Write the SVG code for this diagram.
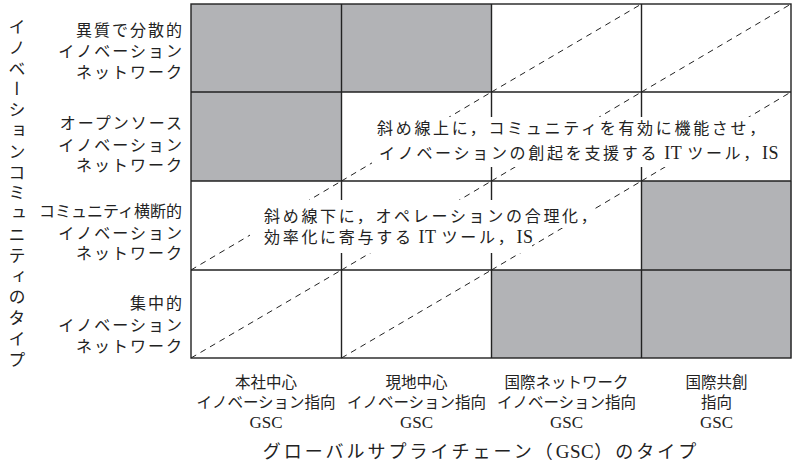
<svg xmlns="http://www.w3.org/2000/svg" width="792" height="470" viewBox="0 0 792 470">
<style>
.t{font-family:"Liberation Serif","Noto Sans CJK JP",serif;fill:#222;font-size:16px}
.rl{text-anchor:end;letter-spacing:2px}
.cl{text-anchor:middle;letter-spacing:0;font-size:15.5px}
.lat{font-family:"Liberation Serif",serif;font-size:18px;letter-spacing:0.5px}
.gsc{font-family:"Liberation Serif",serif;font-size:17px;letter-spacing:0}
.g{fill:#b2b3b6;stroke:none}
.grid{stroke:#222;stroke-width:1.4;fill:none}
.dash{stroke:#222;stroke-width:1;stroke-dasharray:6 5;fill:none}
.mask{fill:#fff;stroke:none}
.note{letter-spacing:2.7px}
</style>
<rect width="792" height="470" fill="#fff"/>
<g id="cells">
<rect id="c11" class="g" x="191" y="4" width="150.5" height="88"/>
<rect id="c12" class="g" x="341.5" y="4" width="150" height="88"/>
<rect id="c21" class="g" x="191" y="92" width="150.5" height="89"/>
<rect id="c34" class="g" x="641.5" y="181" width="150" height="89"/>
<rect id="c43" class="g" x="491.5" y="270" width="150" height="88"/>
<rect id="c44" class="g" x="641.5" y="270" width="150" height="88"/>
</g>
<g id="connectors">
<path class="dash" d="M491.5 92 L641.5 4 M641.5 92 L791 4 M341.5 181 L491.5 92 M491.5 181 L641.5 92 M641.5 181 L791 92 M191 270 L341.5 181 M341.5 270 L491.5 181 M491.5 270 L641.5 181 M191 358 L341.5 270 M341.5 358 L491.5 270"/>
<path class="grid" d="M191 92 H791 M191 181 H791 M191 270 H791 M341.5 4 V358 M491.5 4 V358 M641.5 4 V358"/>
<rect class="grid" x="191" y="4" width="600" height="354" stroke-width="1.6"/>
</g>
<g id="note-above">
<rect class="mask" x="372" y="117" width="408" height="50"/>
<text class="t note" x="377" y="134">斜め線上に，コミュニティを有効に機能させ，</text>
<text class="t note" x="379" y="159">イノベーションの創起を支援する<tspan class="lat">&#160;IT&#160;</tspan>ツール，<tspan class="lat">IS</tspan></text>
</g>
<g id="note-below">
<rect class="mask" x="257" y="200" width="335" height="28"/>
<rect class="mask" x="250" y="228" width="282" height="25"/>
<text class="t note" x="264" y="222">斜め線下に，オペレーションの合理化，</text>
<text class="t note" x="264" y="243">効率化に寄与する<tspan class="lat">&#160;IT&#160;</tspan>ツール，<tspan class="lat">IS</tspan></text>
</g>
<g id="row1">
<text class="t rl" x="184" y="36">異質で分散的</text>
<text class="t rl" x="184" y="57">イノベーション</text>
<text class="t rl" x="184" y="78">ネットワーク</text>
</g>
<g id="row2">
<text class="t rl" x="184" y="129">オープンソース</text>
<text class="t rl" x="184" y="151">イノベーション</text>
<text class="t rl" x="184" y="171">ネットワーク</text>
</g>
<g id="row3">
<text class="t rl" x="182" y="217" style="letter-spacing:0">コミュニティ横断的</text>
<text class="t rl" x="184" y="239">イノベーション</text>
<text class="t rl" x="184" y="259">ネットワーク</text>
</g>
<g id="row4">
<text class="t rl" x="184" y="309">集中的</text>
<text class="t rl" x="184" y="331">イノベーション</text>
<text class="t rl" x="184" y="352">ネットワーク</text>
</g>
<g id="yaxis">
<text class="t" x="15" y="18" style="writing-mode:vertical-rl;font-size:17px;letter-spacing:3.8px">イノベーションコミュニティのタイプ</text>
</g>
<g id="col1">
<text class="t cl" x="266" y="388">本社中心</text>
<text class="t cl" x="266" y="408">イノベーション指向</text>
<text class="t cl gsc" x="266" y="428">GSC</text>
</g>
<g id="col2">
<text class="t cl" x="416.5" y="388">現地中心</text>
<text class="t cl" x="416.5" y="408">イノベーション指向</text>
<text class="t cl gsc" x="416.5" y="428">GSC</text>
</g>
<g id="col3">
<text class="t cl" x="566.5" y="388">国際ネットワーク</text>
<text class="t cl" x="566.5" y="408">イノベーション指向</text>
<text class="t cl gsc" x="566.5" y="428">GSC</text>
</g>
<g id="col4">
<text class="t cl" x="716.5" y="388">国際共創</text>
<text class="t cl" x="716.5" y="408">指向</text>
<text class="t cl gsc" x="716.5" y="428">GSC</text>
</g>
<g id="xaxis">
<text class="t" x="481" y="458" style="text-anchor:middle;font-size:18px;letter-spacing:3px">グローバルサプライチェーン（<tspan class="lat" style="font-size:19px">GSC</tspan>）のタイプ</text>
</g>
</svg>
